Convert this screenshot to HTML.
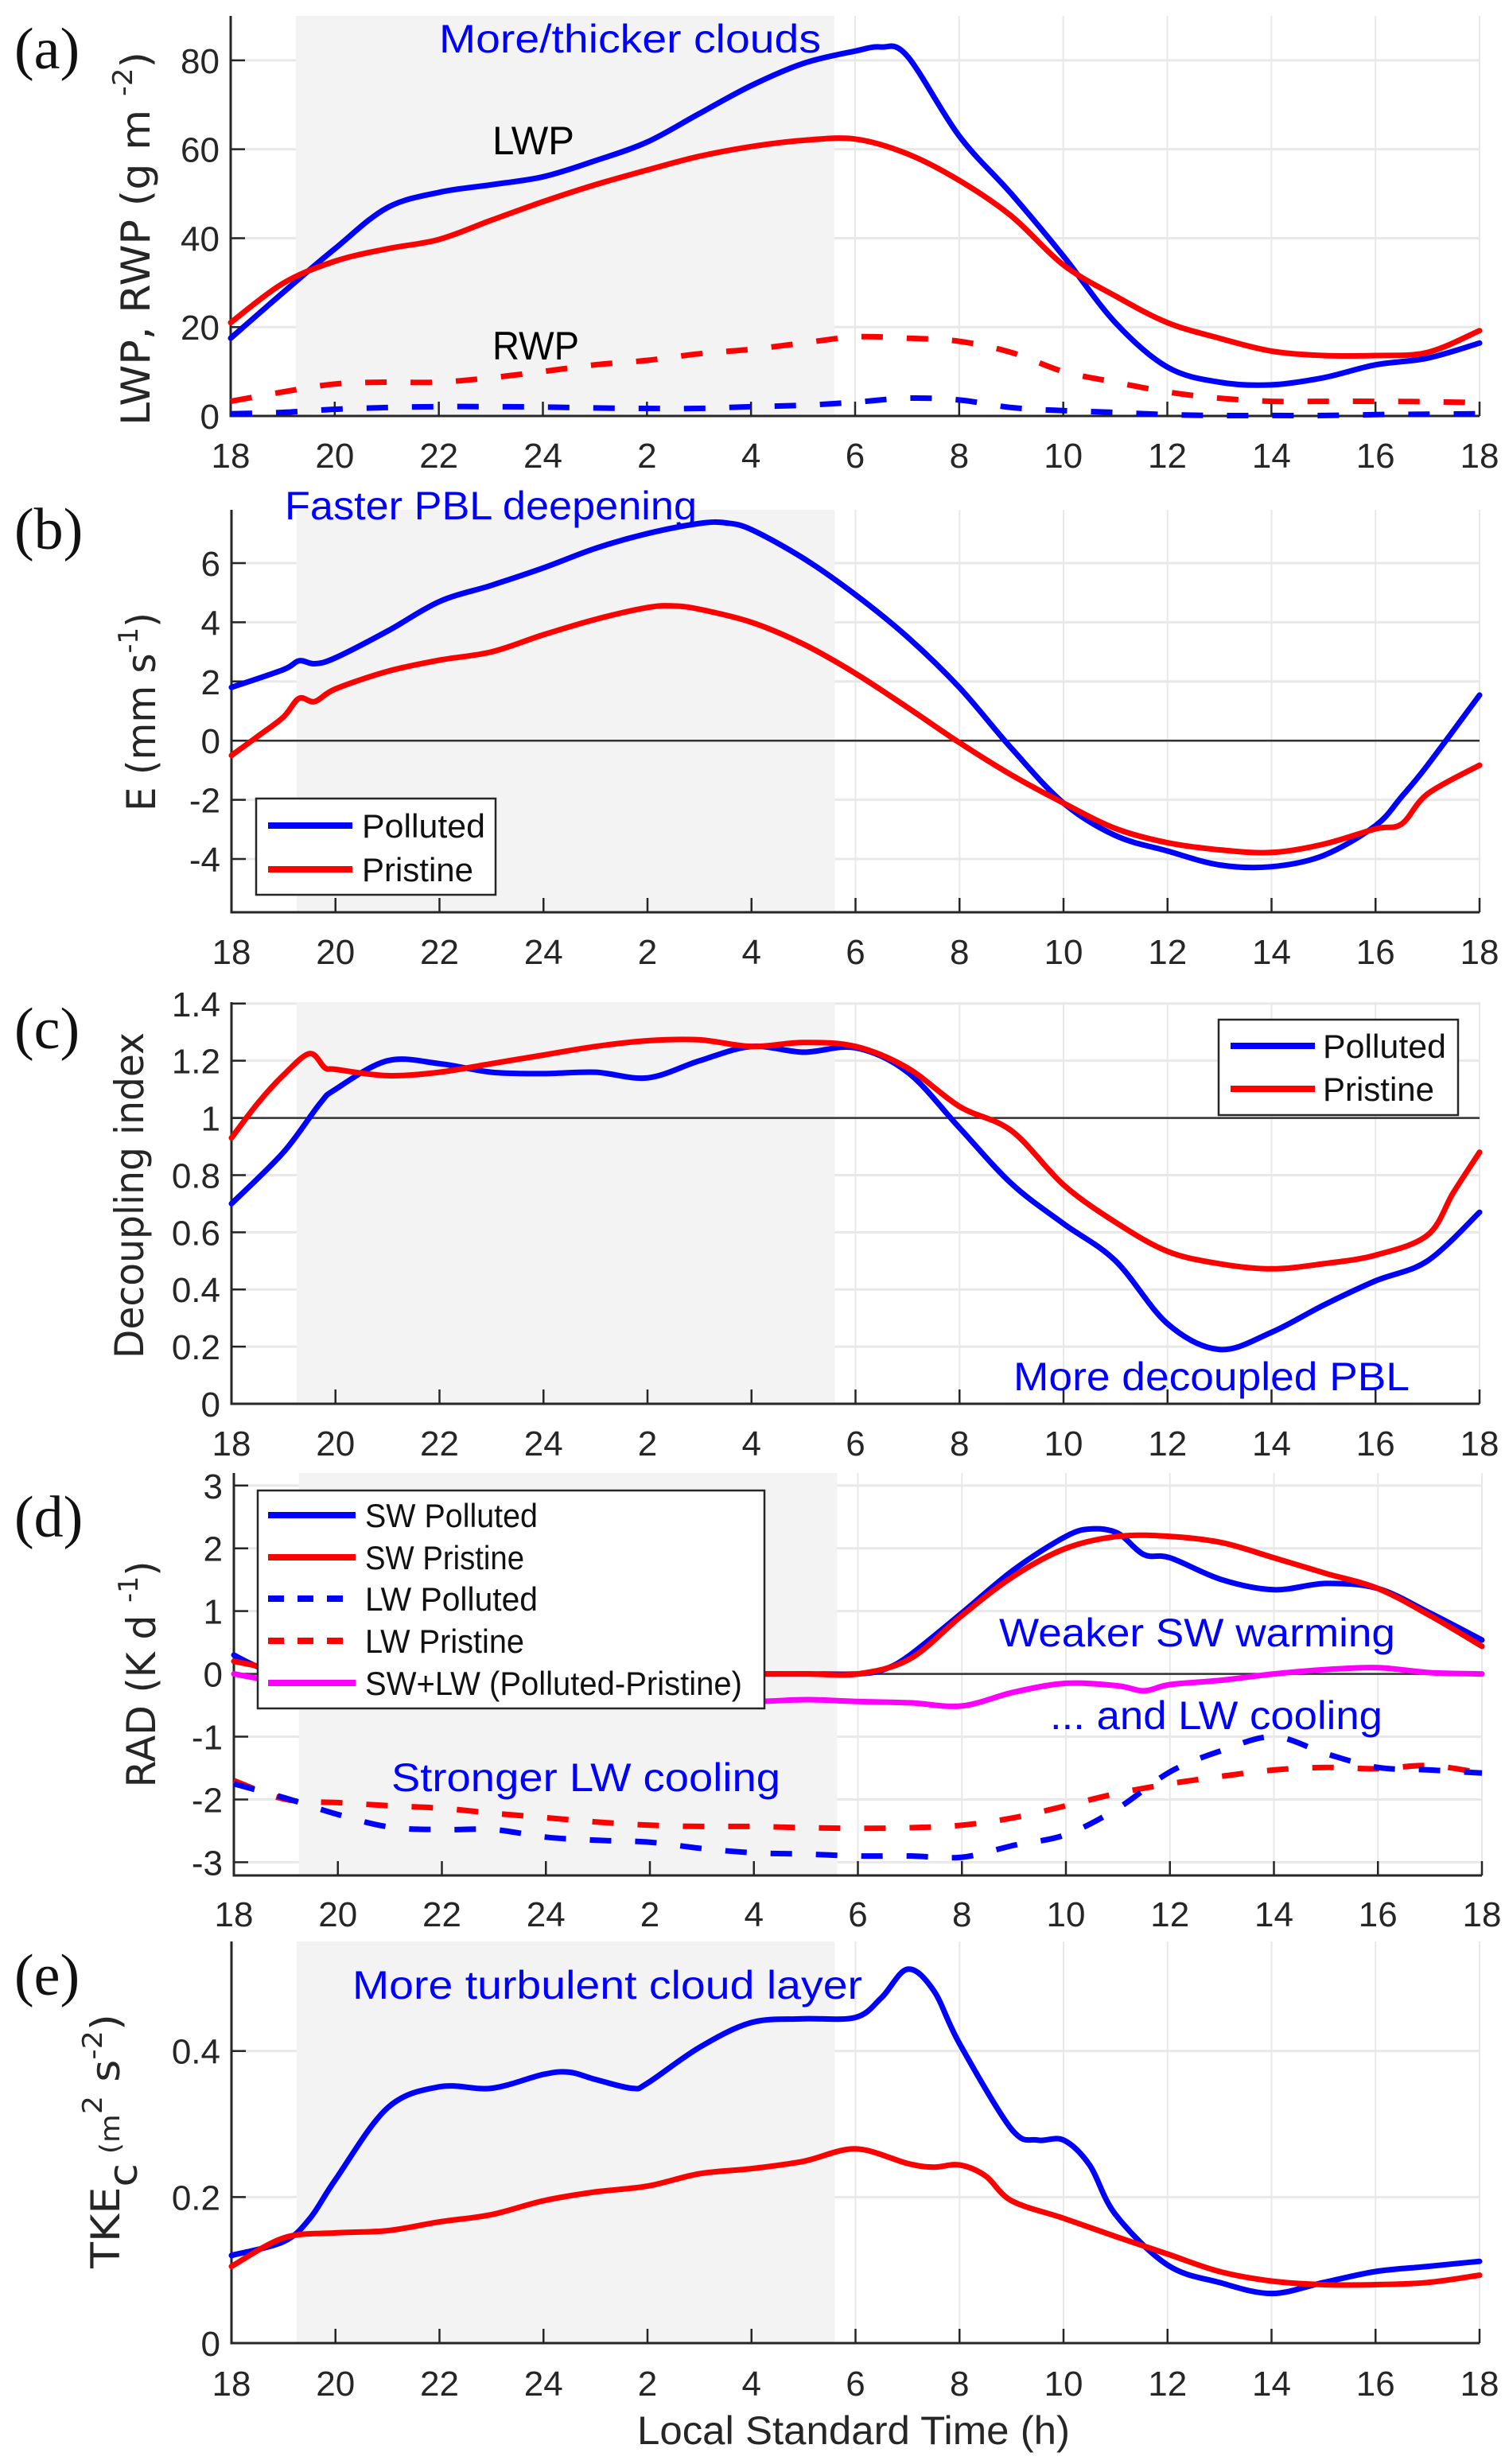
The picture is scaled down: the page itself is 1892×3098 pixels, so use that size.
<!DOCTYPE html>
<html><head><meta charset="utf-8"><title>Cloud diurnal cycle</title>
<style>
html,body{margin:0;padding:0;background:#fff;}
svg{display:block;font-family:"Liberation Sans",sans-serif;}
</style></head>
<body>
<svg id="fig" width="1892" height="3098" viewBox="0 0 1892 3098" xmlns="http://www.w3.org/2000/svg"></svg>
<script>
// ---------- DATA ----------
const xTickHours = [0,2,4,6,8,10,12,14,16,18,20,22,24];
const xTickLabels = ["18","20","22","24","2","4","6","8","10","12","14","16","18"];
const hrs = [0,1,2,3,4,5,6,7,8,9,10,11,12,13,14,15,16,17,18,19,20,21,22,23,24];

// (a) LWP / RWP (g m-2)
const aLwpPollutedH = [0,1,2,3,4,5,6,7,8,9,10,11,12,12.5,13,14,15,16,17,18,19,20,21,22,23,24];
const aLwpPolluted  = [17.5,27.7,37.6,46.8,50.3,52,53.8,57.4,61.6,68,74.3,79.3,82.1,83,81,63,50,36,21,11,7.6,7,8.6,11.5,13,16.4];
const aLwpPristine  = [21,29.8,34.8,37.6,39.7,44,48.2,52,55.3,58.4,60.6,62,62.3,59,53,45,34,27,21,17.5,14.6,13.6,13.6,14.3,19.2];
const aRwpPristine  = [3.3,5.4,7.2,7.6,7.6,8.6,10,11.5,12.5,14,15,16.4,17.8,17.5,16.8,14.3,10,7.6,5.4,4,3.3,3.3,3.3,3.2,3];
const aRwpPolluted  = [0.5,0.8,1.5,1.9,2.1,2.1,2,1.8,1.7,1.7,2.1,2.4,3.1,4,3.6,1.9,1.2,0.8,0.3,0.1,0.1,0.1,0.3,0.4,0.5];
const aYTicks = [0,20,40,60,80];

// (b) entrainment E (mm s-1)
const bPollutedH = [0,1,1.3,1.6,2,3,4,5,6,7,8,9,9.5,10,11,12,13,14,15,16,17,18,19,20,21,22,22.5,23,24];
const bPolluted  = [1.8,2.4,2.7,2.6,2.8,3.7,4.7,5.25,5.84,6.5,7.0,7.34,7.36,7.13,6.16,4.93,3.5,1.79,-0.26,-2.11,-3.21,-3.73,-4.2,-4.26,-3.88,-2.87,-1.9,-0.83,1.54];
const bPristineH = [0,0.5,1,1.3,1.6,2,3,4,5,6,7,8,8.5,9,10,11,12,13,14,15,16,17,18,19,20,21,22,22.5,23,24];
const bPristine  = [-0.5,0.14,0.8,1.43,1.32,1.75,2.34,2.72,3.0,3.58,4.1,4.5,4.55,4.44,4.0,3.26,2.27,1.12,-0.07,-1.16,-2.11,-2.97,-3.45,-3.69,-3.78,-3.5,-2.98,-2.82,-1.8,-0.83];
const bYTicks = [-4,-2,0,2,4,6];

// (c) decoupling index
const cPollutedH = [0,1,1.7,2,3,4,5,6,7,8,9,10,11,12,13,14,15,16,17,18,19,20,21,22,23,24];
const cPolluted  = [0.70,0.88,1.05,1.10,1.2,1.19,1.16,1.155,1.16,1.14,1.2,1.25,1.23,1.245,1.16,0.965,0.77,0.63,0.5,0.28,0.19,0.25,0.345,0.43,0.5,0.67];
const cPristineH = [0,0.5,1,1.5,1.8,2,3,4,5,6,7,8,9,10,11,12,13,14,15,16,17,18,19,20,21,22,23,23.5,24];
const cPristine  = [0.93,1.05,1.15,1.225,1.175,1.17,1.148,1.16,1.19,1.22,1.25,1.27,1.273,1.25,1.264,1.25,1.175,1.04,0.955,0.766,0.635,0.533,0.49,0.472,0.49,0.52,0.59,0.74,0.88];
const cYTicks = [0,0.2,0.4,0.6,0.8,1,1.2,1.4];
const cYTickLabels = ["0","0.2","0.4","0.6","0.8","1","1.2","1.4"];

// (d) radiative heating (K d-1)
const dSwPollutedH = [0,0.5,1,2,4,6,8,10,11,12,12.5,13,14,15,16,16.5,17,17.5,18,19,20,21,22,23,24];
const dSwPolluted  = [0.3,0.1,0,0,0,0,0,0,0,0,0.07,0.3,0.97,1.66,2.19,2.31,2.24,1.9,1.85,1.5,1.34,1.44,1.36,0.97,0.54];
const dSwPristine  = [0.2,0.05,0,0,0,0,0,0,0,0,0,0,0,0.24,0.93,1.56,2.0,2.19,2.19,2.09,1.85,1.6,1.36,0.93,0.44];
const dLwPolluted  = [-1.75,-1.98,-2.24,-2.44,-2.48,-2.48,-2.6,-2.65,-2.68,-2.78,-2.85,-2.87,-2.9,-2.9,-2.92,-2.73,-2.56,-2.14,-1.56,-1.22,-1.0,-1.27,-1.49,-1.53,-1.58];
const dLwPristine  = [-1.7,-2.0,-2.05,-2.1,-2.14,-2.22,-2.29,-2.36,-2.41,-2.43,-2.43,-2.45,-2.46,-2.45,-2.41,-2.29,-2.1,-1.9,-1.75,-1.63,-1.53,-1.49,-1.51,-1.46,-1.58];
const dNetDiffH = [0,1,2,4,6,8,10,11,12,13,14,15,16,17,17.5,18,19,20,21,22,23,24];
const dNetDiff  = [0,-0.15,-0.25,-0.35,-0.4,-0.45,-0.44,-0.41,-0.44,-0.46,-0.51,-0.29,-0.15,-0.19,-0.27,-0.17,-0.1,0,0.07,0.1,0.02,0];
const dYTicks = [-3,-2,-1,0,1,2,3];

// (e) cloud-layer TKE (m2 s-2)
const ePollutedH = [0,1,1.5,2,3,4,5,6,6.5,7,7.7,8,9,10,11,12,12.5,13,13.5,14,15,15.5,16,16.5,17,18,19,20,21,22,23,24];
const ePolluted  = [0.12,0.139,0.17,0.224,0.322,0.351,0.349,0.368,0.371,0.361,0.349,0.356,0.405,0.439,0.444,0.446,0.473,0.512,0.483,0.41,0.293,0.278,0.278,0.244,0.176,0.107,0.083,0.068,0.083,0.098,0.105,0.112];
const ePristineH = [0,1,2,3,4,5,6,7,8,9,10,11,12,13,13.5,14,14.5,15,16,17,18,19,20,21,22,23,24];
const ePristine  = [0.105,0.144,0.151,0.154,0.166,0.176,0.195,0.207,0.215,0.232,0.239,0.249,0.266,0.246,0.241,0.244,0.229,0.195,0.171,0.146,0.122,0.098,0.085,0.08,0.08,0.083,0.093];
const eYTicks = [0,0.2,0.4];

// ---------- DRAWING ----------
const NS = "http://www.w3.org/2000/svg";
const svg = document.getElementById("fig");
function mk(tag, attrs, parent){
  const e = document.createElementNS(NS, tag);
  for (const k in attrs) e.setAttribute(k, attrs[k]);
  (parent||svg).appendChild(e);
  return e;
}
function smoothPath(pts){
  let d = "M" + pts[0][0].toFixed(1) + "," + pts[0][1].toFixed(1);
  for (let i=0;i<pts.length-1;i++){
    const p0=pts[Math.max(0,i-1)], p1=pts[i], p2=pts[i+1], p3=pts[Math.min(pts.length-1,i+2)];
    const c1x=p1[0]+(p2[0]-p0[0])/6, c1y=p1[1]+(p2[1]-p0[1])/6;
    const c2x=p2[0]-(p3[0]-p1[0])/6, c2y=p2[1]-(p3[1]-p1[1])/6;
    d += " C"+c1x.toFixed(1)+","+c1y.toFixed(1)+" "+c2x.toFixed(1)+","+c2y.toFixed(1)+" "+p2[0].toFixed(1)+","+p2[1].toFixed(1);
  }
  return d;
}

function makePanel(p){
  const g = mk("g", {});
  
  
  const X = h => p.L + (p.R - p.L) * h / 24;
  const Y = v => p.B - (p.B - p.T) * (v - p.ymin) / (p.ymax - p.ymin);
  xTickHours.forEach(h => {
    const ln = mk("line", {x1:X(h), x2:X(h), y1:p.T, y2:p.B, stroke:"#e8e8e8", "stroke-width":2}, g);
    
    
  });
  p.yticks.forEach(v => {
    const ln = mk("line", {x1:p.L, x2:p.R, y1:Y(v), y2:Y(v), stroke:"#e8e8e8", "stroke-width":3}, g);
    
    
  });
  const sh = mk("rect", {x:X(1.25), y:p.T, width:X(11.6)-X(1.25), height:p.B-p.T, fill:"#f3f3f3"}, g);
  
  
  if (p.refLine !== undefined){
    const rl = mk("line", {x1:p.L, x2:p.R, y1:Y(p.refLine), y2:Y(p.refLine), stroke:"#333", "stroke-width":2.5}, g);
    
    
  }
  const ax = mk("path", {d:"M"+p.L+","+p.T+" L"+p.L+","+p.B+" L"+p.R+","+p.B, fill:"none", stroke:"#262626", "stroke-width":3}, g);
  
  
  xTickHours.forEach((h,i) => {
    const tk = mk("line", {x1:X(h), x2:X(h), y1:p.B, y2:p.B-18, stroke:"#262626", "stroke-width":2.5}, g);
    
    
    const t = mk("text", {x:X(h), y:p.xlabY, "text-anchor":"middle", "font-size":44, fill:"#262626"}, g);
    t.textContent = xTickLabels[i];
    
    
  });
  p.yticks.forEach((v,i) => {
    const tk = mk("line", {x1:p.L, x2:p.L+18, y1:Y(v), y2:Y(v), stroke:"#262626", "stroke-width":2.5}, g);
    
    
    const t = mk("text", {x:p.L-14, y:Y(v)+16, "text-anchor":"end", "font-size":44, fill:"#262626"}, g);
    t.textContent = p.ytickLabels ? p.ytickLabels[i] : String(v);
    
    
  });
  p.series.forEach(s => {
    const pts = s.h.map((h,i) => [X(h), Y(s.v[i])]);
    const attrs = {d:smoothPath(pts), fill:"none", stroke:s.c, "stroke-width":7, "stroke-linejoin":"round", "stroke-linecap":s.dash?"butt":"round"};
    if (s.dash) attrs["stroke-dasharray"] = s.dash;
    const pe = mk("path", attrs, g);
    
    
  });
  const lt = mk("text", {x:18, y:p.letterY, "font-size":74, "font-family":"Liberation Serif, serif", fill:"#111"}, g);
  lt.textContent = p.letter;
  
  
  return g;
}

function yLabel(g, x, yCenter, len, parts, name){
  const t = mk("text", {transform:"translate("+x+","+yCenter+") rotate(-90)", "text-anchor":"middle", "font-size":50, "font-family":"DejaVu Sans, Liberation Sans, sans-serif", fill:"#262626", textLength:len, lengthAdjust:"spacingAndGlyphs"}, g);
  parts.forEach(pt => {
    const ts = mk("tspan", pt.sup ? {dy:-22, "font-size":34} : (pt.after ? {dy:22} : {}), t);
    ts.textContent = pt.t;
  });
  
  
}
function note(g, txt, x1, x2, y, color, name, size){
  const t = mk("text", {x:x1, y:y, "font-size":size||50, fill:color, textLength:x2-x1, lengthAdjust:"spacingAndGlyphs"}, g);
  t.textContent = txt;
  
  
}
function legend(g, x, y, w, h, items, name){
  const lg = mk("g", {}, g);
  
  
  mk("rect", {x:x, y:y, width:w, height:h, fill:"#fff", stroke:"#262626", "stroke-width":2.5}, lg);
  items.forEach(it => {
    const e = mk("g", {}, lg);
    
    
    const a = {x1:it.lx1, x2:it.lx2, y1:it.y, y2:it.y, stroke:it.c, "stroke-width":8};
    if (it.dash) a["stroke-dasharray"] = it.dash;
    mk("line", a, e);
    const t = mk("text", {x:it.tx, y:it.y+15, "font-size":42, fill:"#111", textLength:it.tw, lengthAdjust:"spacingAndGlyphs"}, e);
    t.textContent = it.t;
  });
}

// ---- panel a ----
const pa = {name:"panel-a-lwp-rwp", L:290, R:1860, T:20, B:523, ymin:0, ymax:90, yticks:aYTicks, xlabY:588, letter:"(a)", letterY:86,
  series:[
    {name:"lwp-polluted-line", h:aLwpPollutedH, v:aLwpPolluted, c:"#0000ff"},
    {name:"lwp-pristine-line", h:hrs, v:aLwpPristine, c:"#ff0000"},
    {name:"rwp-pristine-line", h:hrs, v:aRwpPristine, c:"#ff0000", dash:"27 30"},
    {name:"rwp-polluted-line", h:hrs, v:aRwpPolluted, c:"#0000ff", dash:"27 30"}
  ]};
const ga = makePanel(pa);
yLabel(ga, 188, 300, 470, [{t:"LWP, RWP (g m "},{t:"-2",sup:true},{t:")",after:true}], "y-axis-title-a");
note(ga, "More/thicker clouds", 552, 1032, 66, "#0000ff", "annotation-more-clouds");
note(ga, "LWP", 619, 722, 194, "#000", "label-lwp");
note(ga, "RWP", 619, 728, 452, "#000", "label-rwp");

// ---- panel b ----
const pb = {name:"panel-b-entrainment", L:291, R:1860, T:641, B:1147, ymin:-5.8, ymax:7.8, yticks:bYTicks, xlabY:1212, letter:"(b)", letterY:690, refLine:0,
  series:[
    {name:"e-polluted-line", h:bPollutedH, v:bPolluted, c:"#0000ff"},
    {name:"e-pristine-line", h:bPristineH, v:bPristine, c:"#ff0000"}
  ]};
const gb = makePanel(pb);
yLabel(gb, 195, 895, 250, [{t:"E (mm s"},{t:"-1",sup:true},{t:")",after:true}], "y-axis-title-b");
note(gb, "Faster PBL deepening", 358, 876, 653, "#0000ff", "annotation-faster-pbl");
legend(gb, 322, 1004, 301, 121, [
  {t:"Polluted", c:"#0000ff", lx1:337, lx2:443, y:1038, tx:455, tw:155},
  {t:"Pristine", c:"#ff0000", lx1:337, lx2:443, y:1093, tx:455, tw:140}
], "legend-b");

// ---- panel c ----
const pc = {name:"panel-c-decoupling", L:291, R:1860, T:1260, B:1765, ymin:0, ymax:1.405, yticks:cYTicks, ytickLabels:cYTickLabels, xlabY:1830, letter:"(c)", letterY:1318, refLine:1,
  series:[
    {name:"decoupling-polluted-line", h:cPollutedH, v:cPolluted, c:"#0000ff"},
    {name:"decoupling-pristine-line", h:cPristineH, v:cPristine, c:"#ff0000"}
  ]};
const gc = makePanel(pc);
yLabel(gc, 180, 1503, 410, [{t:"Decoupling index"}], "y-axis-title-c");
note(gc, "More decoupled PBL", 1274, 1772, 1748, "#0000ff", "annotation-decoupled");
legend(gc, 1532, 1282, 301, 120, [
  {t:"Polluted", c:"#0000ff", lx1:1547, lx2:1653, y:1315, tx:1663, tw:155},
  {t:"Pristine", c:"#ff0000", lx1:1547, lx2:1653, y:1369, tx:1663, tw:140}
], "legend-c");

// ---- panel d ----
const pd = {name:"panel-d-radiation", L:294, R:1863, T:1852, B:2358, ymin:-3.21, ymax:3.2, yticks:dYTicks, xlabY:2422, letter:"(d)", letterY:1932, refLine:0,
  series:[
    {name:"lw-pristine-line", h:hrs, v:dLwPristine, c:"#ff0000", dash:"27 30"},
    {name:"lw-polluted-line", h:hrs, v:dLwPolluted, c:"#0000ff", dash:"27 30"},
    {name:"sw-polluted-line", h:dSwPollutedH, v:dSwPolluted, c:"#0000ff"},
    {name:"sw-pristine-line", h:hrs, v:dSwPristine, c:"#ff0000"},
    {name:"net-difference-line", h:dNetDiffH, v:dNetDiff, c:"#ff00ff"}
  ]};
const gd = makePanel(pd);
yLabel(gd, 195, 2105, 285, [{t:"RAD (K d "},{t:"-1",sup:true},{t:")",after:true}], "y-axis-title-d");
legend(gd, 324, 1874, 637, 274, [
  {t:"SW Polluted", c:"#0000ff", lx1:337, lx2:447, y:1905, tx:459, tw:217},
  {t:"SW Pristine", c:"#ff0000", lx1:337, lx2:447, y:1958, tx:459, tw:200},
  {t:"LW Polluted", c:"#0000ff", lx1:337, lx2:447, y:2010, tx:459, tw:217, dash:"20 17"},
  {t:"LW Pristine", c:"#ff0000", lx1:337, lx2:447, y:2063, tx:459, tw:200, dash:"20 17"},
  {t:"SW+LW (Polluted-Pristine)", c:"#ff00ff", lx1:337, lx2:447, y:2116, tx:459, tw:474}
], "legend-d");
note(gd, "Weaker SW warming", 1256, 1754, 2070, "#0000ff", "annotation-weaker-sw");
note(gd, "... and LW cooling", 1320, 1738, 2174, "#0000ff", "annotation-lw-cooling");
note(gd, "Stronger LW cooling", 492, 981, 2252, "#0000ff", "annotation-stronger-lw");

// ---- panel e ----
const pe = {name:"panel-e-tke", L:291, R:1860, T:2441, B:2946, ymin:0, ymax:0.55, yticks:eYTicks, xlabY:3012, letter:"(e)", letterY:2508,
  series:[
    {name:"tke-polluted-line", h:ePollutedH, v:ePolluted, c:"#0000ff"},
    {name:"tke-pristine-line", h:ePristineH, v:ePristine, c:"#ff0000"}
  ]};
const ge = makePanel(pe);
yLabel(ge, 150, 2692, 320, [{t:"TKE"},{t:"c",after:true},{t:" (m",sup:true},{t:"2",sup:true},{t:" s",after:true},{t:"-2",sup:true},{t:")",after:true}], "y-axis-title-e");
note(ge, "More turbulent cloud layer", 443, 1084, 2513, "#0000ff", "annotation-turbulent");
note(ge, "Local Standard Time (h)", 801, 1345, 3073, "#262626", "x-axis-title");
</script>
</body></html>
